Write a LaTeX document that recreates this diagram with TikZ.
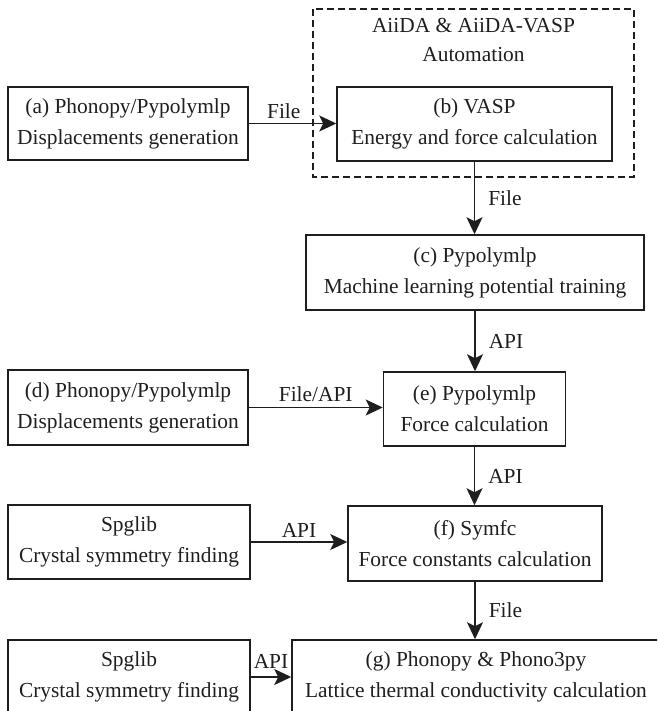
\documentclass[tikz,border=0pt]{standalone}
\usepackage{fontspec}
\setmainfont{Liberation Serif}
\usetikzlibrary{arrows.meta}
\definecolor{ink}{HTML}{1E1E1E}
\tikzset{
  box/.style={draw=ink, line width=1.5pt, inner sep=0pt, align=center, text=ink,
    font=\fontsize{21.4}{31}\selectfont},
  lbl/.style={text=ink, inner sep=0pt, font=\fontsize{21.4}{26}\selectfont},
  arr/.style={draw=ink, line width=1.5pt, -{Stealth[length=17pt,width=16pt,inset=4pt]}},
}
\begin{document}
\begin{tikzpicture}[x=1pt,y=-1pt]
\useasboundingbox (0,0) rectangle (657,711);
\clip (0,0) rectangle (657,711);
% dashed automation frame
\draw[ink, line width=1.5pt, dash pattern=on 7pt off 4pt] (313,9) rectangle (634,177);
\node[lbl, align=center, font=\fontsize{21.4}{29}\selectfont] (auto) at (473.5,40) {AiiDA \& AiiDA-VASP\\Automation};
% boxes
\node[box, minimum width=240pt, minimum height=73pt] (a) at (128,123.5) {(a) Phonopy/Pypolymlp\\Displacements generation};
\node[box, minimum width=275pt, minimum height=74pt] (b) at (474.5,124) {(b) VASP\\Energy and force calculation};
\node[box, minimum width=338pt, minimum height=75pt] (c) at (475,272.5) {(c) Pypolymlp\\Machine learning potential training};
\node[box, minimum width=240pt, minimum height=75pt] (d) at (128,407.5) {(d) Phonopy/Pypolymlp\\Displacements generation};
\node[box, minimum width=182pt, minimum height=74pt] (e) at (474.5,409) {(e) Pypolymlp\\Force calculation};
\node[box, minimum width=242pt, minimum height=74pt] (s1) at (129,542) {Spglib\\Crystal symmetry finding};
\node[box, minimum width=254pt, minimum height=75pt] (f) at (475,543.5) {(f) Symfc\\Force constants calculation};
\node[box, minimum width=242pt, minimum height=74pt] (s2) at (129,677) {Spglib\\Crystal symmetry finding};
\node[box, minimum width=368pt, minimum height=74pt] (g) at (476,677) {(g) Phonopy \& Phono3py\\Lattice thermal conductivity calculation};
% connectors
\draw[arr] (a.east) -- node[lbl, pos=0.4, above=4pt] {File} (a.east -| b.west);
\draw[arr] (b.south) -- node[lbl, right=13pt] {File} (b.south |- c.north);
\draw[arr] (c.south) -- node[lbl, right=13pt] {API} (c.south |- e.north);
\draw[arr] (d.east) -- node[lbl, above=5pt] {File/API} (d.east -| e.west);
\draw[arr] (e.south) -- node[lbl, right=13pt] {API} (e.south |- f.north);
\draw[arr] (s1.east) -- node[lbl, above=4pt] {API} (s1.east -| f.west);
\draw[arr] (f.south) -- node[lbl, right=13pt] {File} (f.south |- g.north);
\draw[arr] (s2.east) -- node[lbl, pos=0.5, above=8pt] {API} (s2.east -| g.west);
\end{tikzpicture}
\end{document}
